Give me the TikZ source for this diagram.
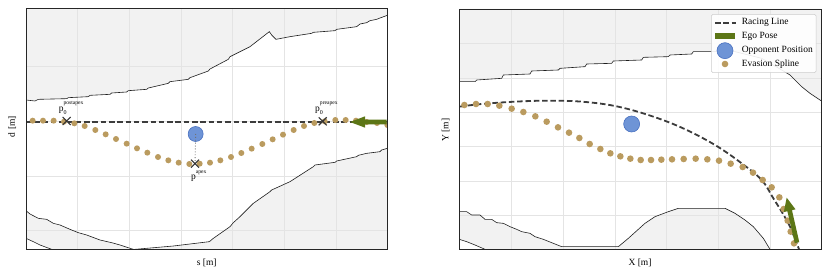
\documentclass[tikz,border=0pt]{standalone}
\usepackage{fontspec}
\setmainfont{Liberation Serif}
\definecolor{trackgray}{RGB}{242,242,242}
\definecolor{gridc}{RGB}{228,228,228}
\definecolor{bound}{RGB}{30,30,30}
\definecolor{raceline}{RGB}{60,60,60}
\definecolor{splinetan}{RGB}{186,155,95}
\definecolor{egogreen}{RGB}{92,118,22}
\definecolor{oppfill}{RGB}{110,148,214}
\definecolor{oppedge}{RGB}{72,112,192}
\newcommand{\plab}[2]{p\rlap{\raisebox{-3.6pt}{\fontsize{6}{6}\selectfont #2}}\raisebox{6.8pt}{\fontsize{5.6}{6}\selectfont #1}}
\tikzset{
  framebox/.style={draw=black!85, line width=0.8pt},
  gridline/.style={draw=gridc, line width=0.5pt},
  boundline/.style={draw=bound, line width=0.6pt},
  racing/.style={draw=raceline, line width=1.8pt, dash pattern=on 5.5pt off 2.8pt},
  cross/.style={draw=black!80, line width=1.1pt},
  opp/.style={circle, inner sep=0pt, fill=oppfill, draw=oppedge, line width=0.6pt},
  axlabel/.style={inner sep=0pt},
  legtext/.style={anchor=west, inner sep=0pt},
}
\begin{document}
\begin{tikzpicture}[x=0.333333pt, y=-0.333333pt, font=\fontsize{9.5}{11}\selectfont]
\useasboundingbox (0,0) rectangle (2490,831);

% ================= LEFT PANEL =================
\begin{scope}
\clip (78,26) rectangle (1162,748);
\fill[trackgray] (78,26) -- (78,300) -- (105,303) -- (115,298) -- (200,296) -- (205,293) -- (265,290) -- (270,286) -- (330,283) -- (335,279) -- (380,276) -- (385,272) -- (440,268) -- (445,264) -- (505,250) -- (510,245) -- (565,238) -- (570,233) -- (625,213) -- (630,207) -- (685,178) -- (690,170) -- (750,140) -- (808,95) -- (815,105) -- (828,118) -- (870,110) -- (935,100) -- (940,97) -- (1005,92) -- (1010,88) -- (1070,80) -- (1080,72) -- (1100,68) -- (1110,62) -- (1130,58) -- (1140,54) -- (1162,46) -- (1162,26) -- cycle;
\fill[trackgray] (78,632) -- (90,642) -- (115,655) -- (140,658) -- (160,670) -- (180,675) -- (210,688) -- (235,698) -- (260,705) -- (300,720) -- (335,728) -- (360,735) -- (400,748) -- (405,748) -- (520,738) -- (628,725) -- (640,715) -- (690,680) -- (700,668) -- (720,650) -- (760,610) -- (770,603) -- (810,575) -- (815,570) -- (870,545) -- (940,500) -- (945,495) -- (1005,487) -- (1010,483) -- (1070,470) -- (1075,466) -- (1100,460) -- (1140,455) -- (1145,450) -- (1162,445) -- (1162,748) -- (155,748) -- (120,735) -- (100,725) -- (78,715) -- cycle;
\foreach \gx in {233,388,543,698,853,1008} \draw[gridline] (\gx,26) -- (\gx,748);
\foreach \gy in {200,365,528,690} \draw[gridline] (78,\gy) -- (1162,\gy);
\draw[boundline] (78,300) -- (105,303) -- (115,298) -- (200,296) -- (205,293) -- (265,290) -- (270,286) -- (330,283) -- (335,279) -- (380,276) -- (385,272) -- (440,268) -- (445,264) -- (505,250) -- (510,245) -- (565,238) -- (570,233) -- (625,213) -- (630,207) -- (685,178) -- (690,170) -- (750,140) -- (808,95) -- (815,105) -- (828,118) -- (870,110) -- (935,100) -- (940,97) -- (1005,92) -- (1010,88) -- (1070,80) -- (1080,72) -- (1100,68) -- (1110,62) -- (1130,58) -- (1140,54) -- (1162,46);
\draw[boundline] (78,632) -- (90,642) -- (115,655) -- (140,658) -- (160,670) -- (180,675) -- (210,688) -- (235,698) -- (260,705) -- (300,720) -- (335,728) -- (360,735) -- (400,748) -- (405,748) -- (520,738) -- (628,725) -- (640,715) -- (690,680) -- (700,668) -- (720,650) -- (760,610) -- (770,603) -- (810,575) -- (815,570) -- (870,545) -- (940,500) -- (945,495) -- (1005,487) -- (1010,483) -- (1070,470) -- (1075,466) -- (1100,460) -- (1140,455) -- (1145,450) -- (1162,445);
\draw[boundline] (78,715) -- (100,725) -- (120,735) -- (155,748);
% racing line
\coordinate (rlA) at (78,365);
\coordinate (rlB) at (1162,365);
\draw[racing] (rlA) -- (rlB);
% evasion spline
\foreach \px/\py in {98/362,129/362,161/362,192/365,223/370,254/378,286/390,317/403,348/417,380/431,411/445,442/458,474/471,505/481,536/488,568/492,599/491,630/488,661/481,693/471,724/459,755/446,787/432,818/418,849/404,881/390,912/378,943/369,974/364,1006/360,1037/360,1068/362,1100/366,1131/369,1162/375}
  \fill[splinetan] (\px,\py) circle[radius=3pt];
% opponent
\node[opp, minimum size=15pt] (oppL) at (587,402) {};
\coordinate (apexL) at (585,491);
\draw[black!55, line width=0.9pt, dotted] (oppL.center) -- (apexL);
% markers
\coordinate (postL) at (200,363);
\coordinate (preL) at (968,364);
\foreach \c in {postL,preL,apexL}
  \draw[cross] ([shift={(-12,-12)}]\c) -- ([shift={(12,12)}]\c) ([shift={(-12,12)}]\c) -- ([shift={(12,-12)}]\c);
% ego arrow
\fill[egogreen] (1050,366) -- (1095,349) -- (1095,359) -- (1160,359) -- (1160,373) -- (1095,373) -- (1095,383) -- cycle;
\end{scope}
\node[anchor=base west, inner sep=0pt] (lpost) at (176,334) {\plab{postapex}{0}};
\node[anchor=base west, inner sep=0pt] (lpre) at (945,334) {\plab{preapex}{0}};
\node[anchor=base west, inner sep=0pt] (lapex) at (573,537) {p\raisebox{5.5pt}{\fontsize{5.6}{6}\selectfont apex}};
\draw[framebox] (78,26) rectangle (1162,748);
\node[axlabel, rotate=90] (dlab) at (37,380) {d [m]};
\node[axlabel] (slab) at (620,790) {s [m]};

% ================= RIGHT PANEL =================
\begin{scope}[xshift=415pt]
\begin{scope}
\clip (133,27) rectangle (1218,748);
\fill[trackgray] (133,27) -- (133,245) -- (180,245) -- (185,240) -- (260,235) -- (265,225) -- (345,222) -- (350,213) -- (430,210) -- (435,205) -- (510,200) -- (515,192) -- (590,190) -- (595,183) -- (680,180) -- (685,172) -- (760,170) -- (765,165) -- (830,162) -- (835,155) -- (960,155) -- (1040,175) -- (1100,210) -- (1125,225) -- (1140,240) -- (1160,260) -- (1185,280) -- (1218,302) -- (1218,27) -- cycle;
\fill[trackgray] (133,635) -- (155,635) -- (170,645) -- (195,645) -- (210,658) -- (230,658) -- (245,668) -- (265,670) -- (285,680) -- (305,688) -- (320,695) -- (345,700) -- (360,710) -- (385,718) -- (410,728) -- (440,740) -- (610,740) -- (640,715) -- (690,670) -- (720,650) -- (760,635) -- (790,625) -- (930,625) -- (960,640) -- (990,660) -- (1015,680) -- (1045,715) -- (1065,748) -- (210,748) -- (180,735) -- (155,725) -- (133,718) -- cycle;
\foreach \gx in {290,445,600,755,910,1065} \draw[gridline] (\gx,27) -- (\gx,748);
\foreach \gy in {130,235,338,440,543,645} \draw[gridline] (133,\gy) -- (1218,\gy);
\draw[boundline] (133,245) -- (180,245) -- (185,240) -- (260,235) -- (265,225) -- (345,222) -- (350,213) -- (430,210) -- (435,205) -- (510,200) -- (515,192) -- (590,190) -- (595,183) -- (680,180) -- (685,172) -- (760,170) -- (765,165) -- (830,162) -- (835,155) -- (960,155) -- (1040,175) -- (1100,210) -- (1125,225) -- (1140,240) -- (1160,260) -- (1185,280) -- (1218,302);
\draw[boundline] (133,635) -- (155,635) -- (170,645) -- (195,645) -- (210,658) -- (230,658) -- (245,668) -- (265,670) -- (285,680) -- (305,688) -- (320,695) -- (345,700) -- (360,710) -- (385,718) -- (410,728) -- (440,740) -- (610,740) -- (640,715) -- (690,670) -- (720,650) -- (760,635) -- (790,625) -- (930,625) -- (960,640) -- (990,660) -- (1015,680) -- (1045,715) -- (1065,748);
\draw[boundline] (133,718) -- (155,725) -- (180,735) -- (210,748);
% racing line
\draw[racing] plot[smooth, tension=0.6] coordinates {(133,320) (200,312) (300,305) (400,302) (500,305) (600,318) (700,345) (800,383) (900,435) (980,490) (1040,540) (1075,595) (1100,635) (1125,680) (1145,730) (1153,750)};
% evasion spline
\foreach \px/\py in {148/315,183/312,218/312,253/317,290/326,325/336,361/349,395/365,429/382,462/398,493/414,524/432,556/447,586/460,616/469,646/476,677/480,708/480,739/479,771/478,806/477,842/476,877/478,912/482,947/491,983/501,1014/518,1043/540,1070/562,1093/592,1106/627,1118/662,1127/695,1137/730}
  \fill[splinetan] (\px,\py) circle[radius=3.3pt];
\node[opp, minimum size=16pt] (oppR) at (650,372) {};
% ego arrow
\fill[egogreen] (1115,593) -- (1141.5,628.0) -- (1130.8,630.4) -- (1152.8,726.4) -- (1139.2,729.6) -- (1117.1,633.6) -- (1106.4,636.0) -- cycle;
\end{scope}
\draw[framebox] (133,27) rectangle (1218,748);
% legend
\draw[draw=black!20, fill=white, fill opacity=0.9, rounded corners=1.5pt, line width=0.5pt] (889,43) rectangle (1203,218);
\coordinate (lgA) at (900,68);
\coordinate (lgB) at (962,68);
\draw[racing] (lgA) -- (lgB);
\fill[egogreen] (900,98) rectangle (960,118);
\node[opp, minimum size=16pt] (lgOpp) at (930,152) {};
\fill[splinetan] (930,192) circle[radius=3.3pt];
\node[legtext] (t1) at (980,68) {Racing Line};
\node[legtext] (t2) at (980,108) {Ego Pose};
\node[legtext] (t3) at (980,152) {Opponent Position};
\node[legtext] (t4) at (980,192) {Evasion Spline};
\node[axlabel, rotate=90] (ylab) at (92,390) {Y [m]};
\node[axlabel] (xlab) at (675,788) {X [m]};
\end{scope}
\end{tikzpicture}
\end{document}
